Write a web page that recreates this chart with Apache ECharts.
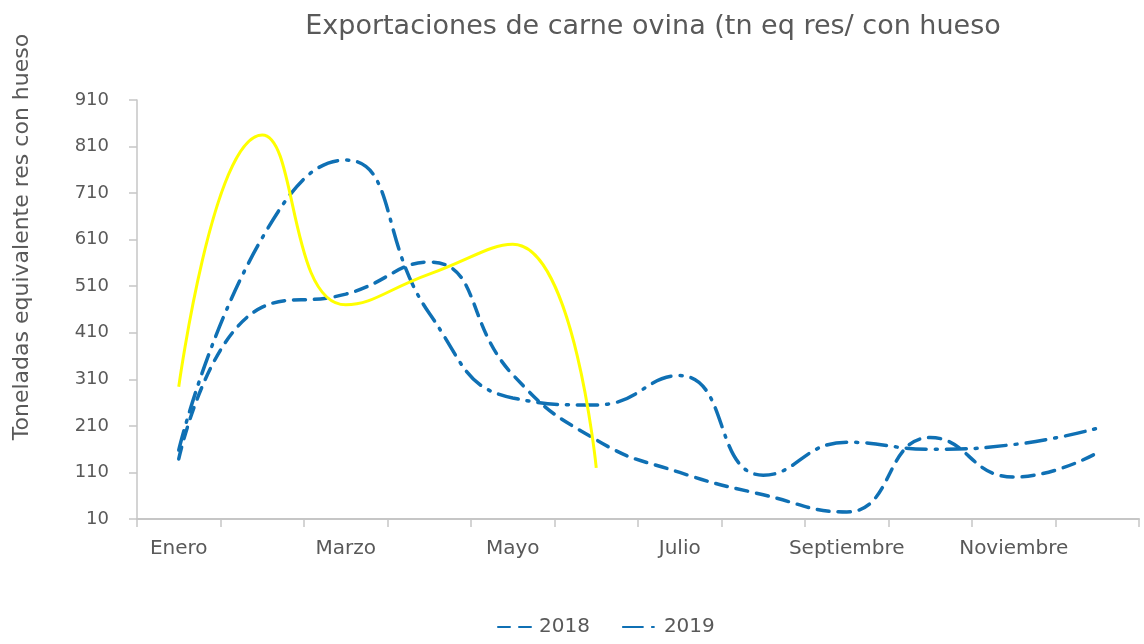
<!DOCTYPE html>
<html>
<head>
<meta charset="utf-8">
<script src="https://cdn.jsdelivr.net/npm/echarts@6/dist/echarts.min.js"></script>
<style>
html,body{margin:0;padding:0;background:#fff;}
#chart{width:1144px;height:644px;}
</style>
</head>
<body>
<div id="chart"></div>
<script>
const months = ['Enero','Febrero','Marzo','Abril','Mayo','Junio','Julio','Agosto','Septiembre','Octubre','Noviembre','Diciembre'];
const s2018 = [139, 465, 493, 562, 320, 180, 110, 62, 25, 185, 100, 152];
const s2019 = [158, 614, 781, 452, 270, 255, 318, 104, 175, 160, 170, 205];
const s2020 = [294, 835, 470, 536, 600, 120];
const yTicks = [10, 110, 210, 310, 410, 510, 610, 710, 810, 910];

const FONT = '"DejaVu Sans", sans-serif';
const TXT = '#595959';
const BLUE = '#0f70b4';

const chart = echarts.init(document.getElementById('chart'), null, {renderer:'canvas'});
chart.setOption({
  animation:false,
  backgroundColor:'#fff',
  title:{
    text:'Exportaciones de carne ovina (tn eq res/ con hueso',
    left:648, top:8, textAlign:'center',
    textStyle:{fontFamily:FONT, fontSize:27, fontWeight:'normal', color:TXT}
  },
  legend:{
    bottom:2, left:492,
    data:['2018','2019'],
    itemWidth:36, itemHeight:10, itemGap:32,
    itemStyle:{opacity:0},
    textStyle:{fontFamily:FONT, fontSize:20, color:TXT}
  },
  grid:{left:137, right:5, top:100, bottom:125, containLabel:false},
  xAxis:{
    type:'category', data:months, boundaryGap:true,
    axisLine:{lineStyle:{color:'#c6c6c6', width:2}},
    axisTick:{show:true, interval:0, length:8, lineStyle:{color:'#c6c6c6', width:1.5}},
    axisLabel:{interval:1, margin:20, fontFamily:FONT, fontSize:20, color:TXT}
  },
  yAxis:{
    type:'value', min:yTicks[0], max:yTicks[yTicks.length-1], interval:100,
    splitLine:{show:false},
    axisLine:{show:true, lineStyle:{color:'#c6c6c6', width:1.5}},
    axisTick:{show:true, length:8, lineStyle:{color:'#c6c6c6', width:1.5}},
    axisLabel:{margin:28, fontFamily:FONT, fontSize:18, color:TXT}
  },
  graphic:[{
    type:'text', x:22, y:237, rotation:Math.PI/2,
    style:{text:'Toneladas equivalente res con hueso', fontFamily:FONT, fontSize:22, fill:TXT,
      textAlign:'center', textVerticalAlign:'middle'}
  }],
  series:[
    {name:'2018', type:'line', data:s2018, smooth:0.5, showSymbol:false, symbol:'none',
     lineStyle:{color:BLUE, width:3.5, type:[12,9], cap:'round'}, itemStyle:{color:BLUE}},
    {name:'2019', type:'line', data:s2019, smooth:0.5, showSymbol:false, symbol:'none',
     lineStyle:{color:BLUE, width:3.5, type:[20,9,2,9], cap:'round'}, itemStyle:{color:BLUE}},
    {name:'2020', type:'line', data:s2020, smooth:0.5, showSymbol:false, symbol:'none',
     lineStyle:{color:'#ffff00', width:3}, itemStyle:{color:'#ffff00'}}
  ]
});
</script>
</body>
</html>
